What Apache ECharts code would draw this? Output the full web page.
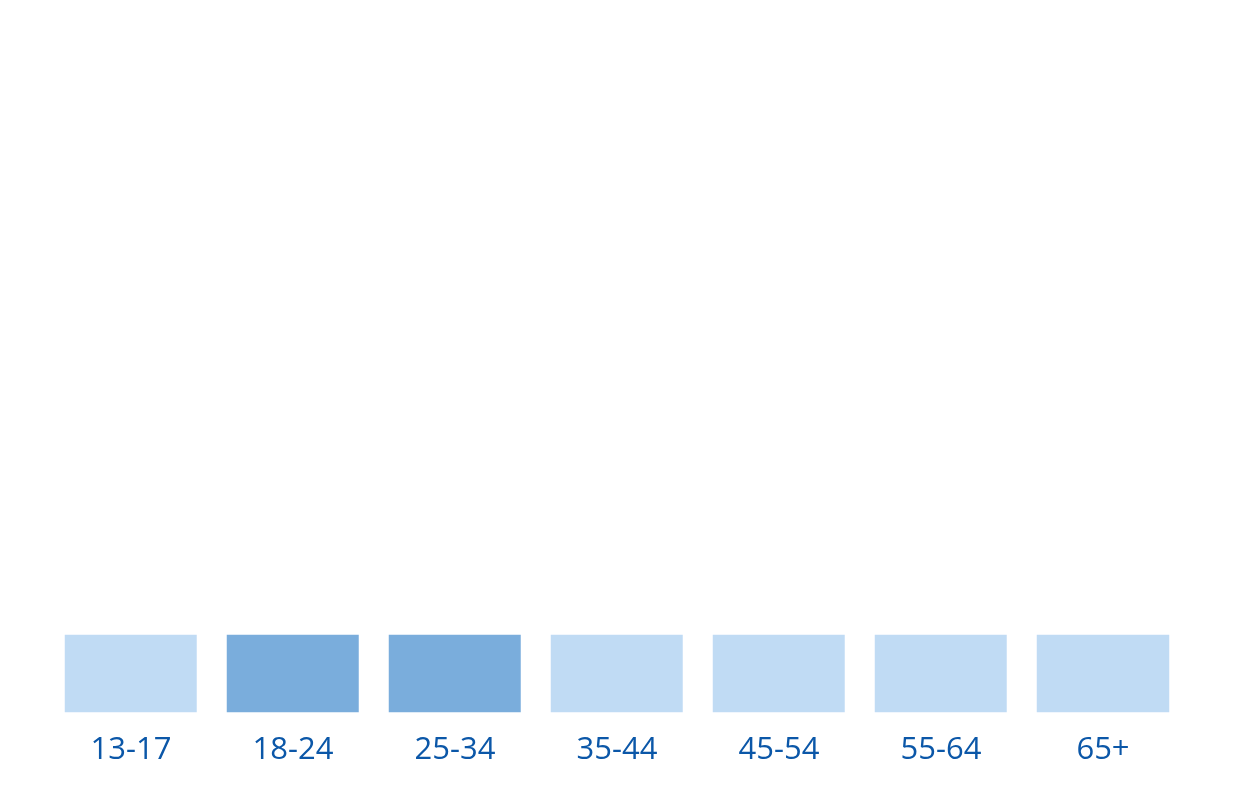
<!DOCTYPE html>
<html>
<head>
<meta charset="utf-8">
<script src="https://cdn.jsdelivr.net/npm/echarts@6/dist/echarts.min.js"></script>
<style>
	html, body { margin: 0; padding: 0; background: #fff; }
	#chart_main { width: 1242px; height: 802px; }
</style>
</head>
<body>
<div id="chart_main"></div>
<script type="text/javascript">
// age groups and share of audience (%)
var age_groups = ['13-17', '18-24', '25-34', '35-44', '45-54', '55-64', '65+'];
var share_values = [6, 31, 29, 15, 9, 5, 3];
var row_name = ['Audience'];

var myChart = echarts.init(document.getElementById('chart_main'));
var cell_data = [];
for (var i = 0; i < age_groups.length; i++) {
	cell_data.push([i, 0, share_values[i]]);
}
var option = {
	animation: false,
	grid: { left: 50, right: 58, top: 620, bottom: 75 },
	xAxis: {
		type: 'category',
		data: age_groups,
		z: 10,
		axisLine: { show: false },
		axisTick: { show: false },
		splitArea: { show: false },
		axisLabel: {
			color: '#0b57a8',
			fontSize: 31,
			fontFamily: 'Open Sans',
			margin: 8
		}
	},
	yAxis: {
		type: 'category',
		data: row_name,
		show: false
	},
	visualMap: {
		type: 'piecewise',
		show: false,
		dimension: 2,
		pieces: [
			{ min: 20, color: '#7aaddc' },
			{ max: 20, color: '#c0dbf4' }
		]
	},
	series: [{
		type: 'heatmap',
		data: cell_data,
		z: 2,
		itemStyle: { borderColor: '#fff', borderWidth: 30 },
		emphasis: { disabled: true }
	}]
};
myChart.setOption(option);
</script>
</body>
</html>
